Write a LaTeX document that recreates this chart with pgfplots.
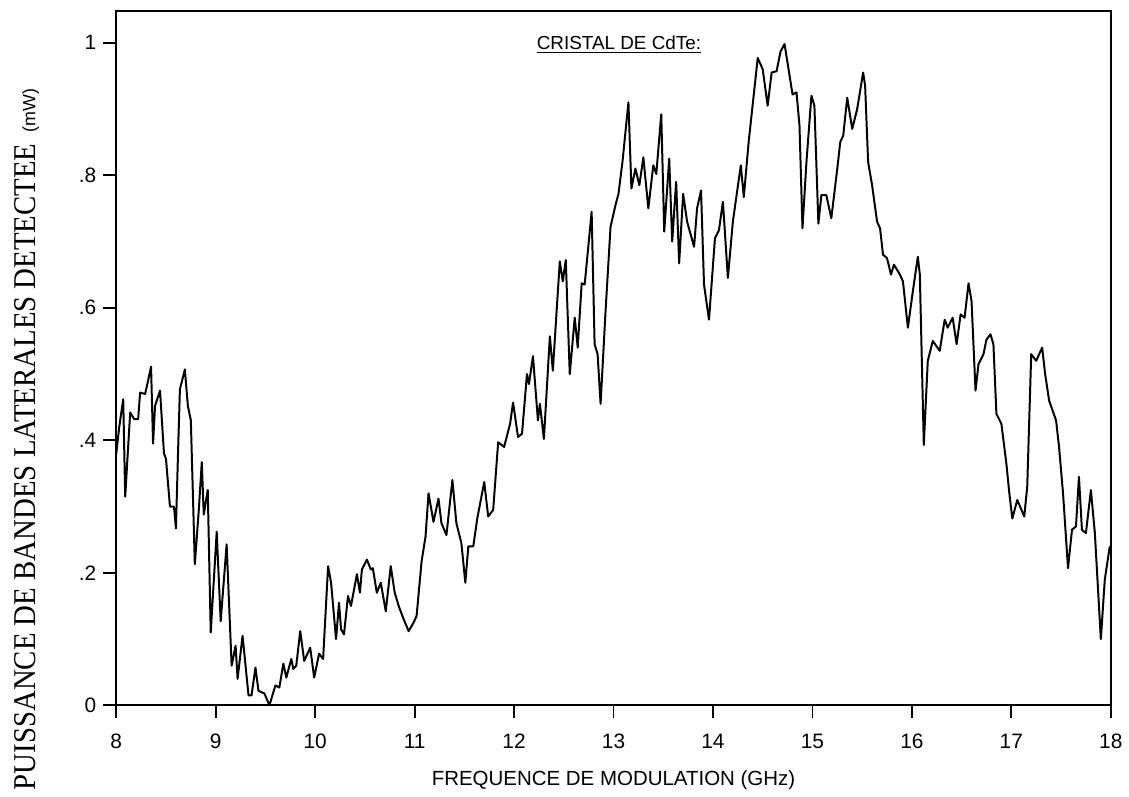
\documentclass[border=0pt]{standalone}
\usepackage{pgfplots}
\pgfplotsset{compat=1.18}
\usepackage{fontspec}
\setmainfont{Liberation Sans}
\newfontfamily\tms{Liberation Serif}

\pgfplotstableread{
f p
8.00 0.380
8.03 0.420
8.07 0.462
8.09 0.315
8.14 0.442
8.18 0.432
8.22 0.432
8.24 0.472
8.29 0.470
8.31 0.483
8.35 0.511
8.37 0.395
8.39 0.452
8.44 0.475
8.48 0.380
8.50 0.372
8.54 0.300
8.58 0.300
8.60 0.267
8.62 0.375
8.64 0.477
8.69 0.507
8.72 0.452
8.75 0.430
8.79 0.213
8.83 0.295
8.86 0.367
8.88 0.288
8.92 0.325
8.95 0.110
9.01 0.262
9.05 0.127
9.11 0.243
9.16 0.060
9.20 0.090
9.22 0.040
9.27 0.105
9.33 0.015
9.36 0.015
9.40 0.057
9.43 0.022
9.49 0.018
9.54 0.000
9.60 0.030
9.64 0.027
9.68 0.063
9.71 0.042
9.76 0.070
9.78 0.055
9.81 0.060
9.85 0.112
9.89 0.067
9.95 0.087
9.99 0.042
10.04 0.078
10.08 0.070
10.13 0.210
10.16 0.185
10.21 0.100
10.24 0.155
10.26 0.115
10.29 0.107
10.33 0.165
10.36 0.150
10.42 0.198
10.45 0.170
10.47 0.205
10.52 0.220
10.56 0.205
10.58 0.207
10.62 0.170
10.66 0.185
10.71 0.142
10.76 0.210
10.80 0.170
10.84 0.150
10.89 0.130
10.94 0.112
10.99 0.125
11.02 0.135
11.07 0.217
11.11 0.255
11.14 0.320
11.19 0.277
11.24 0.312
11.27 0.275
11.32 0.257
11.38 0.340
11.42 0.275
11.47 0.245
11.51 0.185
11.54 0.240
11.59 0.240
11.63 0.282
11.70 0.337
11.74 0.285
11.79 0.295
11.84 0.397
11.90 0.390
11.96 0.425
11.99 0.457
12.04 0.405
12.08 0.410
12.13 0.500
12.15 0.485
12.19 0.527
12.24 0.430
12.26 0.455
12.30 0.402
12.36 0.557
12.39 0.505
12.43 0.600
12.46 0.670
12.49 0.640
12.52 0.672
12.56 0.500
12.61 0.585
12.64 0.540
12.68 0.637
12.71 0.635
12.78 0.745
12.81 0.545
12.84 0.530
12.87 0.455
12.92 0.595
12.97 0.722
13.02 0.755
13.05 0.772
13.09 0.820
13.15 0.910
13.18 0.780
13.22 0.810
13.26 0.785
13.30 0.827
13.35 0.750
13.40 0.815
13.43 0.802
13.48 0.892
13.51 0.715
13.56 0.825
13.59 0.700
13.63 0.790
13.66 0.667
13.70 0.772
13.74 0.730
13.81 0.692
13.84 0.750
13.88 0.777
13.91 0.635
13.96 0.582
14.02 0.705
14.06 0.717
14.10 0.760
14.15 0.645
14.20 0.730
14.28 0.815
14.31 0.767
14.36 0.852
14.42 0.935
14.45 0.977
14.50 0.960
14.55 0.905
14.59 0.955
14.64 0.957
14.68 0.987
14.72 0.998
14.76 0.960
14.80 0.922
14.84 0.925
14.87 0.875
14.90 0.720
14.94 0.820
14.99 0.920
15.02 0.905
15.06 0.727
15.09 0.770
15.14 0.770
15.19 0.735
15.25 0.810
15.28 0.850
15.31 0.860
15.35 0.917
15.40 0.870
15.45 0.900
15.51 0.955
15.53 0.935
15.56 0.820
15.60 0.785
15.65 0.730
15.68 0.720
15.71 0.680
15.75 0.675
15.79 0.650
15.82 0.665
15.88 0.650
15.91 0.640
15.96 0.570
16.01 0.625
16.06 0.677
16.08 0.650
16.12 0.393
16.16 0.520
16.21 0.550
16.28 0.535
16.33 0.582
16.36 0.570
16.41 0.585
16.45 0.545
16.49 0.590
16.53 0.585
16.57 0.637
16.60 0.610
16.64 0.475
16.67 0.515
16.72 0.530
16.75 0.552
16.79 0.560
16.82 0.545
16.85 0.440
16.90 0.425
16.95 0.365
16.98 0.320
17.01 0.282
17.06 0.310
17.13 0.285
17.16 0.330
17.20 0.530
17.25 0.520
17.31 0.540
17.34 0.500
17.38 0.460
17.45 0.430
17.48 0.390
17.52 0.320
17.57 0.207
17.61 0.265
17.65 0.270
17.68 0.345
17.71 0.265
17.75 0.260
17.80 0.325
17.84 0.260
17.90 0.100
17.94 0.190
17.99 0.240
}\sidebands

\begin{document}
\begin{tikzpicture}
\begin{axis}[
  scale only axis,
  width=500.5pt, height=349.5pt,
  xmin=8, xmax=18, ymin=0, ymax=1.048,
  axis line style={line width=0.9pt},
  tick pos=left,
  tick align=outside,
  major tick length=6.5pt,
  tick style={line width=0.9pt, black},
  xtick={8,9,...,18},
  ytick={0,0.2,0.4,0.6,0.8,1},
  yticklabels={0,.2,.4,.6,.8,1},
  /pgf/number format/assume math mode=true,
  ticklabel style={font=\fontsize{10.5}{12}\selectfont},
  xticklabel style={yshift=-4.5pt},
  clip=false,
]
\addplot[black, line width=1pt, line join=round] table[x=f, y=p] {\sidebands};

\node[anchor=center, font=\fontsize{9.5}{11}\selectfont]
  at (rel axis cs:0.5055,0.951) {\underline{CRISTAL DE CdTe:}};
\node[anchor=center, font=\fontsize{10.3}{12}\selectfont]
  at (rel axis cs:0.50,-0.108) {FREQUENCE DE MODULATION (GHz)};
\node[anchor=center, rotate=90]
  at (rel axis cs:-0.0899,0.383)
  {\scalebox{1}[1.1]{\tms\fontsize{14.5}{16}\selectfont PUISSANCE DE BANDES LATERALES DETECTEE}\ \ {\fontsize{9}{11}\selectfont (mW)}};

\path (rel axis cs:-0.1169,-0.1245) rectangle (rel axis cs:1.011,1.0157);
\end{axis}
\end{tikzpicture}
\end{document}
